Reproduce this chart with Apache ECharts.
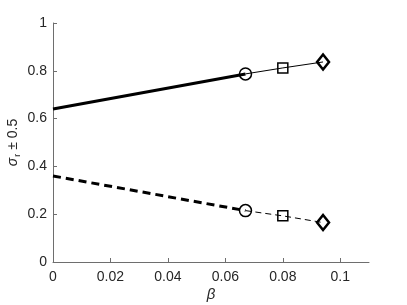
<!DOCTYPE html>
<html>
<head>
<meta charset="utf-8">
<script src="https://cdn.jsdelivr.net/npm/echarts@6/dist/echarts.min.js"></script>
<style>html,body{margin:0;padding:0;background:#fff}#c{width:407px;height:305px}</style>
</head>
<body>
<div id="c"></div>
<script>
// Data
var betaStart = 0;
var betaPoints = [0.067, 0.08, 0.094];
var upperStart = 0.64;
var upperPoints = [0.787, 0.812, 0.837];
var lowerStart = 0.36;
var lowerPoints = [0.215, 0.193, 0.165];
var pointSymbols = ['circle', 'rect', 'diamond'];
var pointSizes = [12, 10, [12, 15]];
var pointBorders = [1.5, 1.5, 2.5];
var xTicks = [0, 0.02, 0.04, 0.06, 0.08, 0.1];
var yTicks = [0, 0.2, 0.4, 0.6, 0.8, 1];

function markerData(vals) {
  return betaPoints.map(function (b, i) {
    return { value: [b, vals[i]], symbol: pointSymbols[i], symbolSize: pointSizes[i],
      itemStyle: { borderWidth: pointBorders[i] } };
  });
}

var axisCol = '#6e6e6e';
var txtCol = '#262626';
var font = '"Liberation Sans", Arial, sans-serif';

var chart = echarts.init(document.getElementById('c'), null, { renderer: 'canvas' });
chart.setOption({
  animation: false,
  backgroundColor: '#fff',
  grid: { left: 53, right: 38, top: 23, bottom: 43, containLabel: false, outerBoundsMode: 'none' },
  xAxis: {
    type: 'value', min: 0, max: 0.11, interval: 0.02,
    name: 'β', nameLocation: 'middle', nameGap: 25, nameMoveOverlap: false,
    nameTextStyle: { fontFamily: font, fontStyle: 'italic', fontSize: 15, color: txtCol },
    axisLine: { show: true, lineStyle: { color: axisCol, width: 1 } },
    axisTick: { show: true, inside: true, length: 4, lineStyle: { color: axisCol } },
    axisLabel: { showMaxLabel: false, fontFamily: font, fontSize: 14, color: txtCol, margin: 8,
      formatter: function (v) { return xTicks.indexOf(Math.round(v * 100) / 100) >= 0 ? String(Math.round(v * 100) / 100) : ''; } },
    splitLine: { show: false }
  },
  yAxis: {
    type: 'value', min: 0, max: 1, interval: 0.2,
    name: '{s|σ}{sub|r}{t| ± 0.5}', nameLocation: 'middle', nameGap: 31, nameRotate: 90, nameMoveOverlap: false,
    nameTextStyle: {
      fontFamily: font, fontSize: 14, color: txtCol,
      rich: {
        s: { fontFamily: font, fontStyle: 'italic', fontSize: 14, color: txtCol },
        sub: { fontFamily: font, fontSize: 9, color: txtCol, padding: [8, 0, 0, 1] },
        t: { fontFamily: font, fontSize: 14, color: txtCol }
      }
    },
    axisLine: { show: true, lineStyle: { color: axisCol, width: 1 } },
    axisTick: { show: true, inside: true, length: 4, lineStyle: { color: axisCol } },
    axisLabel: { fontFamily: font, fontSize: 14, color: txtCol, margin: 6,
      formatter: function (v) { return yTicks.indexOf(Math.round(v * 10) / 10) >= 0 ? String(Math.round(v * 10) / 10) : ''; } },
    splitLine: { show: false }
  },
  series: [
    { type: 'line', data: [[betaStart, upperStart], [betaPoints[0], upperPoints[0]]], symbol: 'none',
      lineStyle: { color: '#000', width: 3 }, z: 2 },
    { type: 'line', data: [[betaStart, lowerStart], [betaPoints[0], lowerPoints[0]]], symbol: 'none',
      lineStyle: { color: '#000', width: 3, type: [8, 5] }, z: 2 },
    { type: 'line', data: markerData(upperPoints), showSymbol: true,
      lineStyle: { color: '#000', width: 1 },
      itemStyle: { color: 'rgba(0,0,0,0)', borderColor: '#000', borderWidth: 1.5 }, z: 3 },
    { type: 'line', data: markerData(lowerPoints), showSymbol: true,
      lineStyle: { color: '#000', width: 1, type: [6, 4] },
      itemStyle: { color: 'rgba(0,0,0,0)', borderColor: '#000', borderWidth: 1.5 }, z: 3 }
  ]
});
</script>
</body>
</html>
